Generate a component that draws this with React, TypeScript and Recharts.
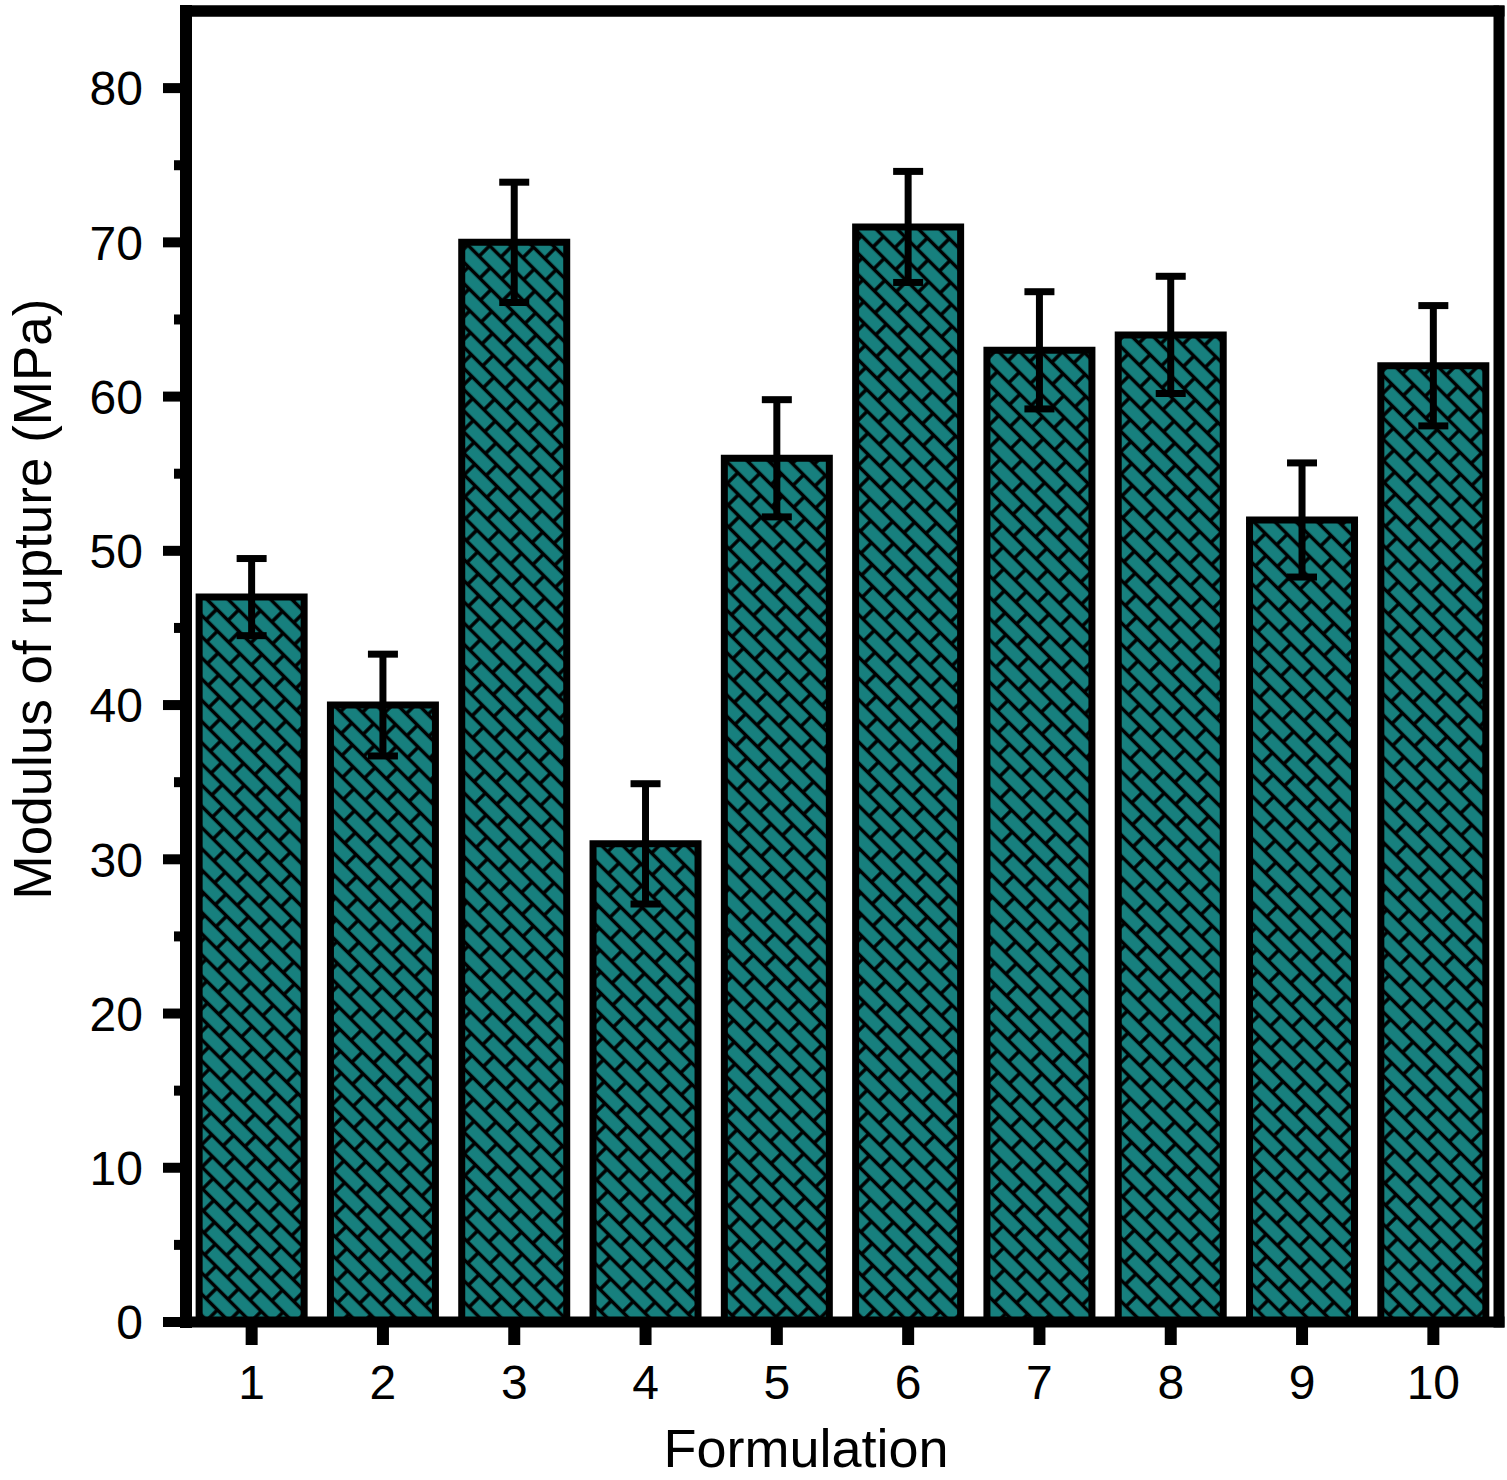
import { BarChart, Bar, XAxis, YAxis, ErrorBar, ReferenceLine } from 'recharts'

const formulations = ['1', '2', '3', '4', '5', '6', '7', '8', '9', '10']
const modulus = [47, 40, 70, 31, 56, 71, 63, 64, 52, 62]
const modulusErr = [2.5, 3.3, 3.9, 3.9, 3.8, 3.6, 3.8, 3.8, 3.7, 3.9]
const yTicks = [0, 5, 10, 15, 20, 25, 30, 35, 40, 45, 50, 55, 60, 65, 70, 75, 80]

const data = formulations.map((name, i) => ({
  name,
  mor: modulus[i],
  err: modulusErr[i],
}))

const FONT = '"Liberation Sans", Arial, Helvetica, sans-serif'
const TEAL = '#17807e'

function YTick(props: any) {
  const { x, y, payload } = props
  const major = payload.value % 10 === 0
  return (
    <g>
      <line x1={x - (major ? 23 : 12)} x2={x} y1={y} y2={y} stroke="#000" strokeWidth={10} />
      {major && (
        <text
          x={x - 43}
          y={y}
          dy="0.36em"
          textAnchor="end"
          fill="#000"
          fontSize={48}
          fontFamily={FONT}
        >
          {payload.value}
        </text>
      )}
    </g>
  )
}

function YLabel() {
  return (
    <text
      x={0}
      y={0}
      transform="translate(51,599) rotate(-90)"
      textAnchor="middle"
      fill="#000"
      fontSize={53}
      fontFamily={FONT}
    >
      Modulus of rupture (MPa)
    </text>
  )
}

function XLabel() {
  return (
    <text x={806} y={1467} textAnchor="middle" fill="#000" fontSize={54} fontFamily={FONT}>
      Formulation
    </text>
  )
}

export default function App() {
  const frame = { stroke: '#000', strokeWidth: 11, strokeLinecap: 'square' as const }
  return (
    <div style={{ position: 'absolute', left: 0, top: 0, background: '#fff' }}>
      <BarChart
        width={1507}
        height={1480}
        data={data}
        margin={{ top: 10, right: 7, left: 0, bottom: 0 }}
        barCategoryGap="10%"
      >
        <defs>
          <pattern
            id="brick"
            width={32}
            height={30}
            patternUnits="userSpaceOnUse"
            patternTransform="rotate(45)"
          >
            <rect width={32} height={30} fill={TEAL} />
            <path
              d="M0 7.5H32 M0 22.5H32 M8 7.5V22.5 M24 22.5V30 M24 0V7.5"
              stroke="#000"
              strokeWidth={3.5}
            />
          </pattern>
        </defs>
        <XAxis
          dataKey="name"
          height={158}
          interval={0}
          axisLine={frame}
          tickLine={{ stroke: '#000', strokeWidth: 12 }}
          tickSize={23}
          tickMargin={20}
          tick={{ fill: '#000', fontSize: 48, fontFamily: FONT }}
          label={<XLabel />}
        />
        <XAxis
          xAxisId="top"
          orientation="top"
          dataKey="name"
          height={1}
          tick={false}
          tickLine={false}
          axisLine={frame}
        />
        <YAxis
          width={186}
          domain={[0, 85]}
          ticks={yTicks}
          interval={0}
          tickSize={0}
          tickMargin={0}
          tickLine={false}
          axisLine={{ stroke: '#000', strokeWidth: 12, strokeLinecap: 'square' }}
          tick={<YTick />}
          label={<YLabel />}
        />
        <YAxis
          yAxisId="right"
          orientation="right"
          width={1}
          domain={[0, 85]}
          tick={false}
          tickLine={false}
          axisLine={frame}
        />
        <ReferenceLine y={85} stroke="#000" strokeWidth={11} ifOverflow="visible" />
        <Bar
          dataKey="mor"
          fill="url(#brick)"
          stroke="#000"
          strokeWidth={7}
          isAnimationActive={false}
        >
          <ErrorBar
            dataKey="err"
            width={15}
            stroke="#000"
            strokeWidth={7}
            direction="y"
            isAnimationActive={false}
          />
        </Bar>
      </BarChart>
    </div>
  )
}
